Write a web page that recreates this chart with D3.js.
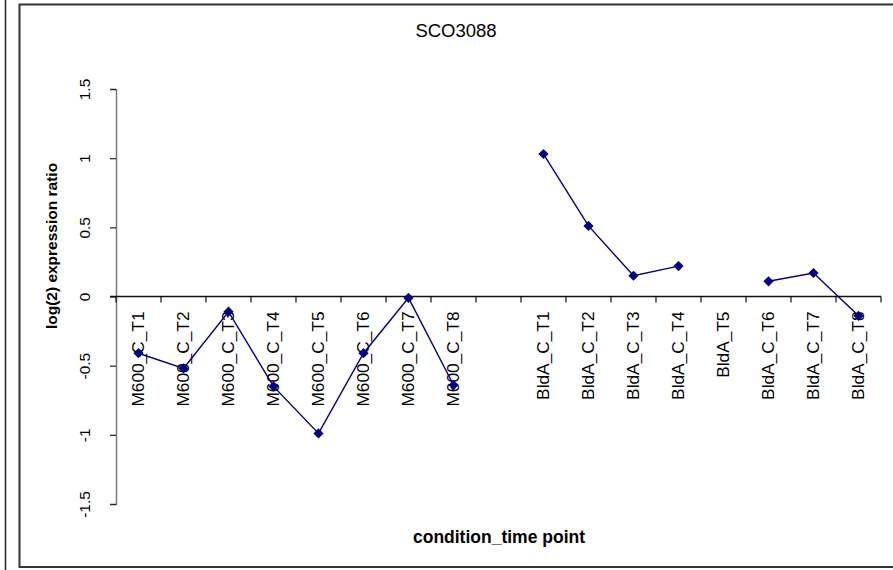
<!DOCTYPE html>
<html><head><meta charset="utf-8">
<script src="https://cdn.jsdelivr.net/npm/d3@7"></script>
<style>
html,body{margin:0;padding:0;background:#fff;}
svg{display:block;font-family:"Liberation Sans",Arial,sans-serif;}
</style></head>
<body><svg id="c" width="893" height="570"></svg>
<script>
const title = "SCO3088";
const yLabel = "log(2) expression ratio";
const xLabel = "condition_time point";
const categories = ["M600_C_T1","M600_C_T2","M600_C_T3","M600_C_T4","M600_C_T5","M600_C_T6","M600_C_T7","M600_C_T8","gap",
  "BldA_C_T1","BldA_C_T2","BldA_C_T3","BldA_C_T4","BldA_T5","BldA_C_T6","BldA_C_T7","BldA_C_T8"];
const categoryLabels = ["M600_C_T1","M600_C_T2","M600_C_T3","M600_C_T4","M600_C_T5","M600_C_T6","M600_C_T7","M600_C_T8","",
  "BldA_C_T1","BldA_C_T2","BldA_C_T3","BldA_C_T4","BldA_T5","BldA_C_T6","BldA_C_T7","BldA_C_T8"];
const values = [-0.41,-0.52,-0.11,-0.65,-0.99,-0.41,-0.01,-0.64,null,
  1.03,0.51,0.15,0.22,null,0.11,0.17,-0.14];
const yTicks = [-1.5,-1,-0.5,0,0.5,1,1.5];

const svg = d3.select("#c");
// frames
svg.append("line").attr("x1",5.5).attr("x2",5.5).attr("y1",0).attr("y2",570).attr("stroke","#222").attr("stroke-width",1.5);
svg.append("rect").attr("x",19.5).attr("y",4.5).attr("width",900).attr("height",562.5)
  .attr("fill","none").attr("stroke","#333").attr("stroke-width",2);

const x = d3.scaleBand().domain(categories).range([116,881]).padding(0);
const y = d3.scaleLinear().domain([-1.5,1.5]).range([504,89]);

// title
svg.append("text").attr("x",456).attr("y",36.5).attr("text-anchor","middle")
  .attr("font-size",18.5).attr("fill","#000").text(title);

// y axis
const yAxis = d3.axisLeft(y).tickValues(yTicks).tickSize(6).tickFormat(d=>String(d));
const gy = svg.append("g").attr("transform","translate(116,0)").call(yAxis);
gy.select(".domain").attr("stroke","#777").attr("stroke-width",1.5);
gy.selectAll(".tick line").attr("stroke","#222").attr("stroke-width",1.2);
gy.selectAll(".tick text").attr("font-size",15.5).attr("fill","#000")
  .attr("text-anchor","middle").attr("dy",0)
  .attr("transform",d=>`translate(${-26},0) rotate(-90)`)
  .attr("x",0).attr("y",0);

// x axis line at y=0
const y0 = y(0);
svg.append("line").attr("x1",110).attr("x2",x.range()[1]).attr("y1",y0).attr("y2",y0)
  .attr("stroke","#111").attr("stroke-width",1.5);
// boundary ticks
const edges = categories.map(c=>x(c)).concat([x.range()[1]]);
svg.append("g").selectAll("line").data(edges).join("line")
  .attr("x1",d=>d).attr("x2",d=>d).attr("y1",y0).attr("y2",y0+6)
  .attr("stroke","#111").attr("stroke-width",1.2);
// category labels
svg.append("g").selectAll("text").data(categories).join("text")
  .attr("transform",(d)=>`translate(${x(d)+x.bandwidth()/2+5.5},${y0+15}) rotate(-90)`)
  .attr("text-anchor","end").attr("font-size",17.3).attr("fill","#000")
  .text((d,i)=>categoryLabels[i]);

// line + markers
const pts = categories.map((c,i)=>({c,v:values[i]}));
const line = d3.line().defined(d=>d.v!==null).x(d=>x(d.c)+x.bandwidth()/2).y(d=>y(d.v));
svg.append("path").datum(pts).attr("d",line).attr("fill","none")
  .attr("stroke","#000080").attr("stroke-width",1.4);
const sym = d3.symbol().type(d3.symbolSquare).size(52);
svg.append("g").selectAll("path").data(pts.filter(d=>d.v!==null)).join("path")
  .attr("d",sym).attr("fill","#000080")
  .attr("transform",d=>`translate(${x(d.c)+x.bandwidth()/2},${y(d.v)}) rotate(45)`);

// axis titles
svg.append("text").attr("transform",`translate(57,246) rotate(-90)`).attr("text-anchor","middle")
  .attr("font-size",15.5).attr("font-weight","bold").attr("fill","#000").text(yLabel);
svg.append("text").attr("x",499).attr("y",543).attr("text-anchor","middle")
  .attr("font-size",17.5).attr("font-weight","bold").attr("fill","#000").text(xLabel);
</script></body></html>
